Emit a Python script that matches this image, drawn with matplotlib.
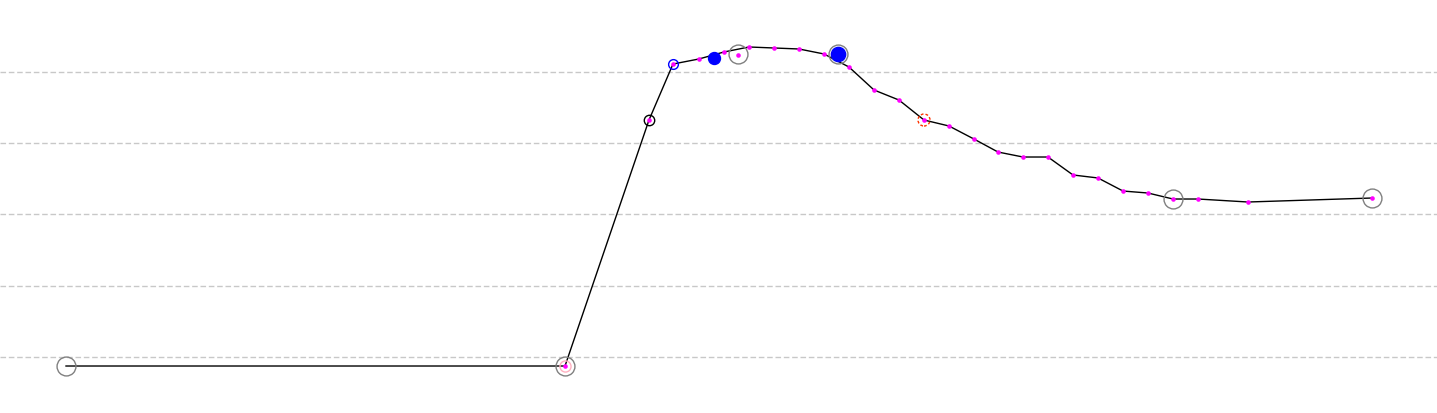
import matplotlib
matplotlib.use("Agg")
import matplotlib.pyplot as plt

# main line (x in time units, y in value units)
line_x = [0, 19.96, 23.32, 24.28, 25.32, 26.32, 27.32, 28.32, 29.32, 30.32, 31.32,
          32.32, 33.32, 34.32, 35.32, 36.32, 37.28, 38.28, 39.28, 40.28, 41.28,
          42.28, 43.28, 44.28, 45.28, 47.28, 52.24]
line_y = [-1.26, -1.26, 33.24, 41.09, 41.80, 42.78, 43.48, 43.34, 43.20, 42.50, 40.67,
          37.45, 36.04, 33.24, 32.40, 30.57, 28.75, 28.05, 28.05, 25.53, 25.11,
          23.28, 23.00, 22.16, 22.16, 21.74, 22.30]

# extra magenta point off the line
extra_x = [26.88]
extra_y = [42.36]

# highlighted markers
blue_fill_x = [25.92, 30.88]
blue_fill_y = [41.94, 42.50]
grey_x = [0, 19.96, 26.88, 30.88, 44.28, 52.24]
grey_y = [-1.26, -1.26, 42.45, 42.50, 22.16, 22.30]
black_x, black_y = [23.32], [33.24]
blue_open_x, blue_open_y = [24.28], [41.09]
red_x, red_y = [34.32], [33.24]
pink_x, pink_y = [19.96], [-1.26]

grid_vals = [0, 10, 20, 30, 40]

fig = plt.figure(figsize=(14.37, 4.13), dpi=100)
ax = fig.add_axes([0, 0, 1, 1])
ax.set_xlim(-2.64, 54.84)
ax.set_ylim(-7.85, 50.07)
for s in ax.spines.values():
    s.set_visible(False)
ax.set_xticks([])
ax.set_yticks([])

for g in grid_vals:
    ax.axhline(g, color='#c8c8c8', linewidth=1, linestyle=(0, (4, 2)), zorder=0)

ax.plot(line_x, line_y, color='black', linewidth=1, zorder=2)
ax.plot(blue_fill_x[:1], blue_fill_y[:1], 'o', color='blue', markersize=8.6, zorder=3)
ax.plot(blue_fill_x[1:], blue_fill_y[1:], 'o', color='blue', markersize=10.3, zorder=3)
ax.plot(line_x[1:] + extra_x, line_y[1:] + extra_y, 'o', color='magenta',
        markersize=3.3, markeredgewidth=0, zorder=4)
ax.plot(pink_x, pink_y, 'o', mfc='none', mec='#ffb0c0', markersize=8, zorder=5)
ax.plot(black_x, black_y, 'o', mfc='none', mec='black', markersize=7.5, zorder=5)
ax.plot(blue_open_x, blue_open_y, 'o', mfc='none', mec='blue', markersize=7, zorder=5)
ax.scatter(red_x, red_y, s=75, facecolors='none', edgecolors='#ff3300',
           linewidths=1, linestyles=(0, (2, 1.5)), zorder=5)
ax.plot(grey_x, grey_y, 'o', mfc='none', mec='#808080', markersize=13.6, zorder=6)

fig.savefig('out.png', dpi=100)
